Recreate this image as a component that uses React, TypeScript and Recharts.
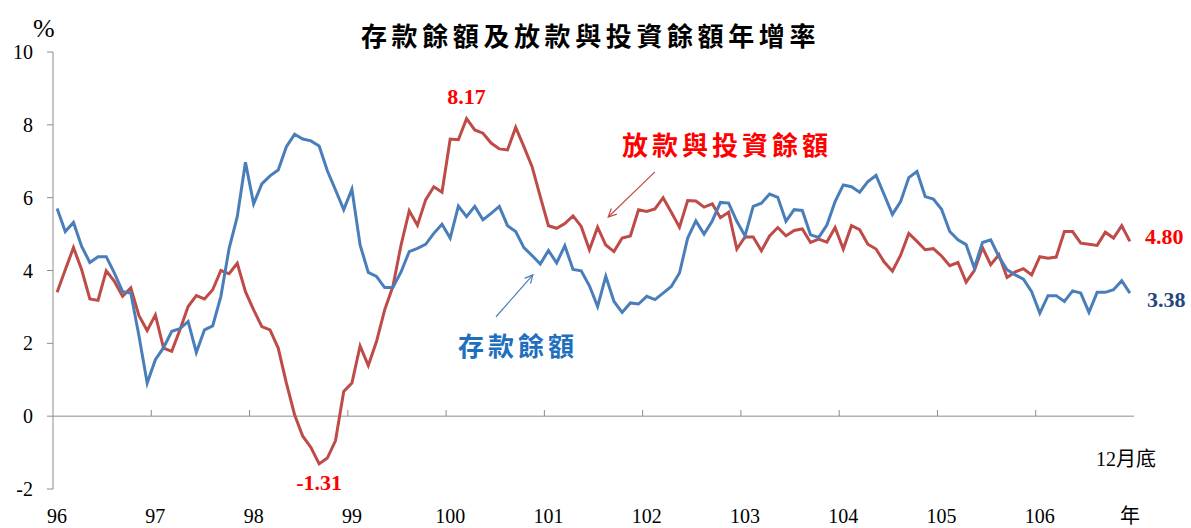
import { LineChart, Line, XAxis, YAxis, ReferenceLine } from "recharts";

// 96/01 ~ 106/12 monthly, year-on-year growth (%)
const deposits = [
  5.7, 5.07, 5.32, 4.66, 4.22, 4.38, 4.38, 3.93, 3.42, 3.38, 2.2, 0.91,
  1.55, 1.88, 2.33, 2.4, 2.6, 1.75, 2.37, 2.48, 3.29, 4.6, 5.48, 6.97,
  5.83, 6.38, 6.6, 6.76, 7.4, 7.74, 7.61, 7.56, 7.42, 6.74, 6.21, 5.67,
  6.23, 4.7, 3.95, 3.84, 3.53, 3.53, 3.96, 4.52, 4.61, 4.72, 5.02, 5.27,
  4.89, 5.77, 5.48, 5.76, 5.39, 5.57, 5.76, 5.23, 5.07, 4.63, 4.41, 4.18,
  4.55, 4.21, 4.68, 4.03, 3.99, 3.58, 3.01, 3.84, 3.15, 2.85, 3.11, 3.08,
  3.29, 3.2, 3.38, 3.56, 3.93, 4.89, 5.36, 5.0, 5.36, 5.87, 5.85, 5.35,
  4.95, 5.76, 5.85, 6.1, 6.01, 5.35, 5.67, 5.65, 4.98, 4.91, 5.25, 5.89,
  6.35, 6.3, 6.15, 6.44, 6.61, 6.08, 5.54, 5.89, 6.55, 6.72, 6.03, 5.96,
  5.68, 5.07, 4.84, 4.71, 4.07, 4.77, 4.84, 4.38, 4.02, 3.88, 3.76, 3.42,
  2.83, 3.31, 3.31, 3.15, 3.44, 3.38, 2.85, 3.4, 3.4, 3.47, 3.72, 3.38,
];

const loans = [
  3.4, 4.02, 4.63, 4.02, 3.22, 3.18, 3.99, 3.7, 3.29, 3.52, 2.76, 2.35,
  2.78, 1.87, 1.78, 2.37, 3.01, 3.31, 3.22, 3.47, 4.0, 3.91, 4.2, 3.42,
  2.92, 2.46, 2.37, 1.87, 0.91, 0.04, -0.55, -0.86, -1.31, -1.15, -0.67, 0.68,
  0.91, 1.93, 1.39, 2.05, 2.92, 3.56, 4.7, 5.64, 5.24, 5.94, 6.3, 6.15,
  7.61, 7.59, 8.17, 7.86, 7.77, 7.5, 7.34, 7.31, 7.93, 7.4, 6.85, 6.03,
  5.23, 5.16, 5.29, 5.5, 5.21, 4.57, 5.19, 4.7, 4.52, 4.89, 4.95, 5.67,
  5.62, 5.69, 6.0, 5.6, 5.19, 5.92, 5.91, 5.74, 5.83, 5.45, 5.6, 4.59,
  4.92, 4.92, 4.54, 4.95, 5.18, 4.95, 5.1, 5.14, 4.77, 4.86, 4.78, 5.18,
  4.59, 5.23, 5.12, 4.72, 4.59, 4.23, 3.98, 4.42, 5.02, 4.8, 4.57, 4.6,
  4.4, 4.13, 4.22, 3.68, 4.0, 4.63, 4.16, 4.43, 3.81, 3.96, 4.05, 3.88,
  4.38, 4.34, 4.37, 5.07, 5.07, 4.75, 4.72, 4.69, 5.05, 4.89, 5.23, 4.8,
];

const tickIdx = [0, 12, 24, 36, 48, 60, 72, 84, 96, 108, 120, 131];
const tickLabels = ["96", "97", "98", "99", "100", "101", "102", "103", "104", "105", "106", "年"];
const yearBreaks = [11.5, 23.5, 35.5, 47.5, 59.5, 71.5, 83.5, 95.5, 107.5, 119.5];
const yTicks = [-2, 0, 2, 4, 6, 8, 10];

const data = deposits.map((v, i) => ({ i, deposits: v, loans: loans[i] }));

const BLUE = "#4A7EBB";
const RED = "#BE4B48";
const AXIS = "#8C8C8C";
const SERIF = "'Liberation Serif', 'Noto Sans CJK TC', serif";
const CJK = "'Noto Sans CJK TC', sans-serif";

const lastIdx = loans.length - 1;
const peakIdx = loans.indexOf(Math.max(...loans));
const lowIdx = loans.indexOf(Math.min(...loans));

const numStyle = { fontFamily: SERIF, fontSize: 22, fontWeight: 700 } as const;

const loanDot = (p: any) => {
  const { cx, cy, index } = p;
  const txt = loans[index]?.toFixed(2);
  if (index === peakIdx)
    return <text key={index} x={cx} y={cy - 15} textAnchor="middle" fill="#FF0000" style={numStyle}>{txt}</text>;
  if (index === lowIdx)
    return <text key={index} x={cx} y={cy + 26} textAnchor="middle" fill="#FF0000" style={numStyle}>{txt}</text>;
  if (index === lastIdx)
    return <text key={index} x={cx + 15} y={cy + 3} textAnchor="start" fill="#FF0000" style={numStyle}>{txt}</text>;
  return <g key={index} />;
};

const depositDot = (p: any) => {
  const { cx, cy, index } = p;
  if (index === lastIdx)
    return (
      <text key={index} x={cx + 17} y={cy + 14} textAnchor="start" fill="#1F497D" style={numStyle}>
        {deposits[index].toFixed(2)}
      </text>
    );
  return <g key={index} />;
};

const arrow = (color: string) => (p: any) => {
  const { x1, y1, x2, y2 } = p;
  const a = Math.atan2(y2 - y1, x2 - x1);
  const h = 9;
  const s = 0.45;
  const d = `M${x2 - h * Math.cos(a - s)},${y2 - h * Math.sin(a - s)} L${x2},${y2} L${x2 - h * Math.cos(a + s)},${y2 - h * Math.sin(a + s)}`;
  return (
    <g>
      <line x1={x1} y1={y1} x2={x2} y2={y2} stroke={color} strokeWidth={1.2} />
      <path d={d} stroke={color} strokeWidth={1.2} fill="none" />
    </g>
  );
};

export default function App() {
  return (
    <div style={{ position: "absolute", left: 0, top: 0, width: 1191, height: 528, background: "#fff" }}>
      <LineChart width={1191} height={528} data={data} margin={{ top: 52, right: 57, bottom: 9, left: 0 }}>
        <XAxis
          type="number"
          dataKey="i"
          domain={[-0.5, 131.5]}
          ticks={tickIdx}
          interval={0}
          tickFormatter={(v: number) => tickLabels[tickIdx.indexOf(v)] ?? ""}
          axisLine={false}
          tickLine={false}
          tickMargin={14}
          height={30}
          tick={{ fontSize: 20, fill: "#000", fontFamily: SERIF }}
        />
        <YAxis
          domain={[-2, 10]}
          ticks={yTicks}
          interval={0}
          width={53}
          axisLine={{ stroke: AXIS }}
          tickLine={{ stroke: AXIS }}
          tickSize={6}
          tickMargin={14}
          tick={{ fontSize: 20, fill: "#000", fontFamily: SERIF }}
        />
        <ReferenceLine y={0} stroke={AXIS} strokeWidth={1} />
        {yearBreaks.map((b) => (
          <ReferenceLine key={b} segment={[{ x: b, y: 0 }, { x: b, y: 0.17 }]} stroke={AXIS} strokeWidth={1} />
        ))}
        <ReferenceLine segment={[{ x: 73.0, y: 6.71 }, { x: 67.3, y: 5.47 }]} shape={arrow(RED)} />
        <ReferenceLine segment={[{ x: 53.6, y: 2.73 }, { x: 58.1, y: 3.88 }]} shape={arrow(BLUE)} />
        <Line
          type="linear"
          dataKey="loans"
          stroke={RED}
          strokeWidth={3}
          dot={loanDot}
          activeDot={false}
          isAnimationActive={false}
        />
        <Line
          type="linear"
          dataKey="deposits"
          stroke={BLUE}
          strokeWidth={3}
          dot={depositDot}
          activeDot={false}
          isAnimationActive={false}
        />
      </LineChart>
      <svg width={1191} height={528} style={{ position: "absolute", left: 0, top: 0, pointerEvents: "none" }}>
        <text x={361} y={46} fontFamily={CJK} fontSize={26} fontWeight={700} letterSpacing={4.6} fill="#000">
          存款餘額及放款與投資餘額年增率
        </text>
        <text x={33} y={37} fontFamily={SERIF} fontSize={26} fill="#000">%</text>
        <text x={1126} y={466} textAnchor="middle" fontFamily={SERIF} fontSize={20} fill="#000">12月底</text>
        <text x={622} y={155} fontFamily={CJK} fontSize={26} fontWeight={700} letterSpacing={4} fill="#FF0000">
          放款與投資餘額
        </text>
        <text x={458} y={356} fontFamily={CJK} fontSize={26} fontWeight={700} letterSpacing={4} fill="#1F6FBF">
          存款餘額
        </text>
      </svg>
    </div>
  );
}
